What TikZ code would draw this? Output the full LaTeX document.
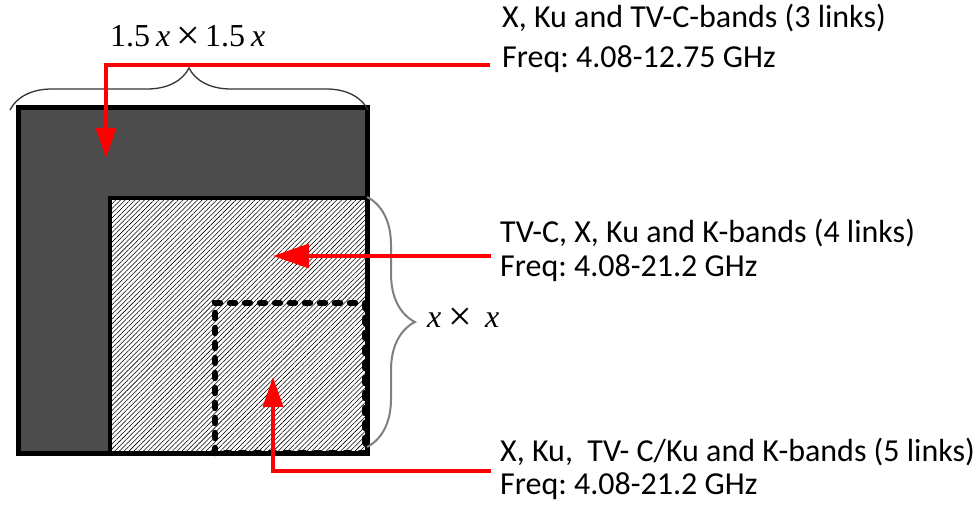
\documentclass[tikz,border=0pt]{standalone}
\usepackage{fontspec}
\setmainfont{Carlito}
\newfontfamily\timesfont{Liberation Serif}
\usetikzlibrary{arrows.meta,patterns.meta,decorations.pathreplacing}
\frenchspacing
\newcommand{\bigtimes}{\raisebox{-2.5pt}{\fontsize{42}{42}\selectfont ×}}
\begin{document}
\begin{tikzpicture}[x=1pt,y=1pt,
  lbl/.style={anchor=base west, inner sep=0pt, font=\fontsize{32}{38}\selectfont},
  mathlbl/.style={anchor=base west, inner sep=0pt, font=\timesfont\fontsize{32}{38}\selectfont},
  redarrow/.style={draw=red, line width=3.5pt, -{Triangle[length=30pt,width=20pt]}},
  bigarrow/.style={draw=red, line width=3.5pt, -{Triangle[length=36pt,width=24pt]}},
  hatch/.style={pattern={Lines[angle=45,distance=3.4pt,line width=0.55pt]}, pattern color=black},
  brc/.style={decorate, decoration={brace, amplitude=#1}}
]
\useasboundingbox (0,0) rectangle (980,508);
\fill[white] (0,0) rectangle (980,508);
% outer region
\fill[black!70] (18,54) rectangle (367,400);
% inner region
\fill[white] (110,54) rectangle (367,310);
\fill[hatch] (110,54) rectangle (367,310);
\draw[line width=4.5pt] (110,54) -- (110,310) -- (367,310);
\draw[line width=5pt] (18,54) rectangle (367,400);
% dashed region
\draw[line width=6.5pt, dash pattern=on 5pt off 10pt, line cap=round] (215,55) rectangle (365,205);
% braces
\draw[brc=42pt, line width=1.3pt, black!80] (10,398) -- (368,398);
\draw[brc=48pt, line width=2pt, black!50] (367,311) -- (367,61);
% dimension labels
\node[mathlbl] (dimbig) at (110,461) {1.5\hspace{6pt}\textit{x}\hspace{6pt}\bigtimes\hspace{5pt}1.5\hspace{6pt}\textit{x}};
\node[mathlbl] (dimsmall) at (427,180) {\textit{x}\hspace{7pt}\bigtimes\hspace{13pt}\textit{x}};
% band labels
\node[lbl] (t1a) at (502,480) {X, Ku and TV-C-bands (3 links)};
\node[lbl] (t1b) at (502,440) {Freq: 4.08-12.75 GHz};
\node[lbl] (t2a) at (500,265) {TV-C, X, Ku and K-bands (4 links)};
\node[lbl] (t2b) at (500,231) {Freq: 4.08-21.2 GHz};
\node[lbl] (t3a) at (500,46) {X, Ku,\ \ TV- C/Ku and K-bands (5 links)};
\node[lbl] (t3b) at (500,13) {Freq: 4.08-21.2 GHz};
% arrows
\coordinate (a1s) at (490,443);
\coordinate (a1b) at (106,443);
\coordinate (a1e) at (106,350);
\draw[redarrow] (a1s) -- (a1b) -- (a1e);
\coordinate (a2s) at (491,252);
\coordinate (a2e) at (273,252);
\draw[bigarrow] (a2s) -- (a2e);
\coordinate (a3s) at (491,37);
\coordinate (a3b) at (273,37);
\coordinate (a3e) at (273,131);
\draw[redarrow] (a3s) -- (a3b) -- (a3e);
\end{tikzpicture}
\end{document}
